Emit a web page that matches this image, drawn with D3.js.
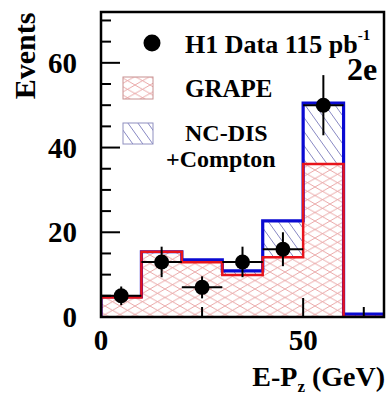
<!DOCTYPE html>
<html><head><meta charset="utf-8">
<script src="https://cdn.jsdelivr.net/npm/d3@7"></script>
<style>body{margin:0;background:#fff}</style>
</head><body><svg id="c" width="388" height="396"></svg>
<script>
const binEdges = [0,10,20,30,40,50,60,70];
const grapeVals = [4.6,15.4,12.9,9.9,14.1,36.1,0];
const totalVals = [4.8,15.4,13.5,10.9,22.7,50.5,0.7];
const dataX = [5,15,25,35,45,55];
const dataY = [5,13,7,13,16,50];
const dataErr = [2.2,3.6,2.6,3.6,4.0,7.1];
const yMajorTicks = [0,20,40,60];
const yMinorTicks = [5,10,15,25,30,35,45,50,55,65,70];
const xMajorTicks = [0,50];
const xMinorTicks = [25,65];
const legendLabels = ["H1 Data 115 pb", "GRAPE", "NC-DIS", "+Compton"];

const svg = d3.select("#c");
const L = 101, R = 384, T = 12, B = 317;
const x = d3.scaleLinear().domain([0,70]).range([L,R]);
const y = d3.scaleLinear().domain([0,72]).range([B,T]);
const font = "'Liberation Serif','Times New Roman',serif";

const defs = svg.append("defs");
const pr = defs.append("pattern").attr("id","hatchR").attr("patternUnits","userSpaceOnUse")
  .attr("width",15).attr("height",8.5);
pr.append("path").attr("d","M0,8.5L15,0M0,0L15,8.5M-1,1L1,-1M14,9.5L16,7.5").attr("stroke","#e48a8a").attr("stroke-width",0.75).attr("fill","none");
const pb = defs.append("pattern").attr("id","hatchB").attr("patternUnits","userSpaceOnUse")
  .attr("width",10).attr("height",14);
pb.append("path").attr("d","M0,0L10,14M-1,12.6L1,15.4M9,-1.4L11,1.4").attr("stroke","#6a6ab4").attr("stroke-width",0.8).attr("fill","none");
defs.append("clipPath").attr("id","clip").append("rect").attr("x",L).attr("y",T).attr("width",R-L).attr("height",B-T);

const binData = binEdges.map((e,i)=>({x:e, g:grapeVals[Math.min(i,grapeVals.length-1)], t:totalVals[Math.min(i,totalVals.length-1)]}));
const g = svg.append("g").attr("clip-path","url(#clip)");

g.append("path").datum(binData).attr("fill","url(#hatchB)")
  .attr("d", d3.area().curve(d3.curveStepAfter).x(d=>x(d.x)).y0(d=>y(d.g)).y1(d=>y(d.t)));
g.append("path").datum(binData).attr("fill","url(#hatchR)")
  .attr("d", d3.area().curve(d3.curveStepAfter).x(d=>x(d.x)).y0(y(0)).y1(d=>y(d.g)));

function outline(vals){
  const pts = [{x:binEdges[0],v:0}];
  vals.forEach((v,i)=>pts.push({x:binEdges[i],v:v}));
  pts.push({x:binEdges[binEdges.length-1],v:vals[vals.length-1]});
  pts.push({x:binEdges[binEdges.length-1],v:0});
  return d3.line().curve(d3.curveStepAfter).x(d=>x(d.x)).y(d=>y(d.v))(pts);
}
g.append("path").attr("d",outline(totalVals)).attr("fill","none").attr("stroke","#0a0ad2").attr("stroke-width",3.2);
g.append("path").attr("d",outline(grapeVals)).attr("fill","none").attr("stroke","#e8141c").attr("stroke-width",2.5);

// ticks
const tk = svg.append("g").attr("stroke","#000").attr("stroke-width",2);
yMajorTicks.forEach(v=>tk.append("line").attr("x1",L).attr("x2",L+19).attr("y1",y(v)).attr("y2",y(v)));
yMinorTicks.forEach(v=>tk.append("line").attr("x1",L).attr("x2",L+10).attr("y1",y(v)).attr("y2",y(v)));
xMajorTicks.forEach(v=>tk.append("line").attr("y1",B).attr("y2",B-19).attr("x1",x(v)).attr("x2",x(v)));
xMinorTicks.forEach(v=>tk.append("line").attr("y1",B).attr("y2",B-10).attr("x1",x(v)).attr("x2",x(v)));

// data points
const dp = svg.append("g");
dataX.forEach((xv,i)=>{
  dp.append("line").attr("x1",x(xv-5)).attr("x2",x(xv+5)).attr("y1",y(dataY[i])).attr("y2",y(dataY[i])).attr("stroke","#000").attr("stroke-width",2);
  dp.append("line").attr("x1",x(xv)).attr("x2",x(xv)).attr("y1",y(dataY[i]-dataErr[i])).attr("y2",y(dataY[i]+dataErr[i])).attr("stroke","#000").attr("stroke-width",2);
  dp.append("circle").attr("cx",x(xv)).attr("cy",y(dataY[i])).attr("r",7.5).attr("fill","#000");
});

// frame
svg.append("rect").attr("x",L).attr("y",T).attr("width",R-L).attr("height",B-T).attr("fill","none").attr("stroke","#000").attr("stroke-width",2.5);

// tick labels
yMajorTicks.forEach(v=>svg.append("text").attr("x",77).attr("y",y(v)+10).attr("text-anchor","end")
  .attr("font-family",font).attr("font-weight","bold").attr("font-size",29).text(v));
xMajorTicks.forEach(v=>svg.append("text").attr("x",x(v)).attr("y",350).attr("text-anchor","middle")
  .attr("font-family",font).attr("font-weight","bold").attr("font-size",29).text(v));

// axis titles
svg.append("text").attr("transform","translate(35,56) rotate(-90)").attr("text-anchor","middle")
  .attr("font-family",font).attr("font-weight","bold").attr("font-size",30).text("Events");
const xt = svg.append("text").attr("x",385).attr("y",386).attr("text-anchor","end")
  .attr("font-family",font).attr("font-weight","bold").attr("font-size",28);
xt.append("tspan").text("E-P");
xt.append("tspan").attr("font-size",17).attr("dy",6).text("z");
xt.append("tspan").attr("dy",-6).text(" (GeV)");

// legend
svg.append("circle").attr("cx",152).attr("cy",43).attr("r",8.5).attr("fill","#000");
const t1 = svg.append("text").attr("x",185).attr("y",53).attr("font-family",font).attr("font-weight","bold").attr("font-size",26);
t1.append("tspan").text(legendLabels[0]);
t1.append("tspan").attr("font-size",15).attr("dy",-13).text("-1");
svg.append("rect").attr("x",123).attr("y",77).attr("width",30).attr("height",22).attr("fill","url(#hatchR)").attr("stroke","#c89090").attr("stroke-width",1);
svg.append("text").attr("x",185).attr("y",97).attr("font-family",font).attr("font-weight","bold").attr("font-size",25).text(legendLabels[1]);
svg.append("rect").attr("x",123).attr("y",123).attr("width",30).attr("height",21).attr("fill","url(#hatchB)").attr("stroke","#9090c0").attr("stroke-width",1);
svg.append("text").attr("x",185).attr("y",141).attr("font-family",font).attr("font-weight","bold").attr("font-size",24).text(legendLabels[2]);
svg.append("text").attr("x",166).attr("y",167).attr("font-family",font).attr("font-weight","bold").attr("font-size",24).text(legendLabels[3]);
svg.append("text").attr("x",347).attr("y",80).attr("font-family",font).attr("font-weight","bold").attr("font-size",32).text("2e");
</script></body></html>
